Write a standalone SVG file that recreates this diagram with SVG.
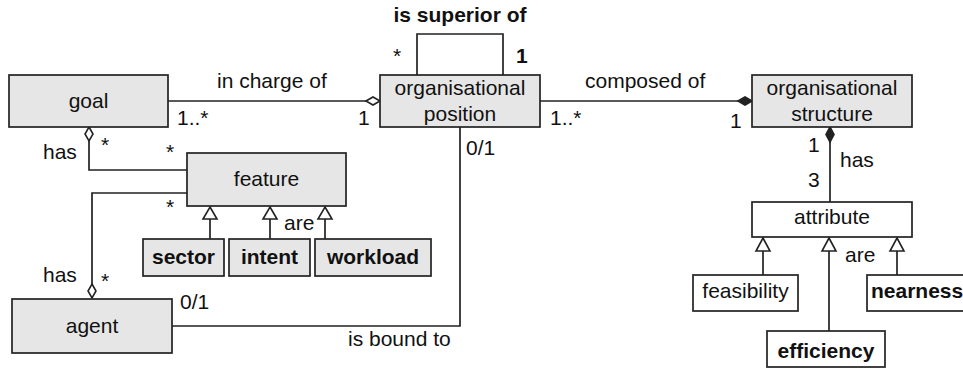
<svg xmlns="http://www.w3.org/2000/svg" width="963" height="372" viewBox="0 0 963 372">
  <style>
    text { font-family: "Liberation Sans", Arial, sans-serif; font-size: 21px; fill: #111; }
    .c { text-anchor: middle; }
    .b { font-weight: bold; }
    .box { fill: #e6e6e6; stroke: #222; stroke-width: 1.7; }
    .wbox { fill: #fff; stroke: #222; stroke-width: 1.7; }
    .ln { fill: none; stroke: #222; stroke-width: 1.7; }
    .hd { fill: #fff; stroke: #222; stroke-width: 1.6; }
    .fd { fill: #222; stroke: #222; stroke-width: 1.6; }
  </style>

  <!-- connectors -->
  <g id="connectors">
    <!-- goal - organisational position -->
    <line class="ln" x1="168" y1="101" x2="366" y2="101"/>
    <polygon class="hd" points="366,101 373,97 380,101 373,105"/>
    <!-- composed of -->
    <line class="ln" x1="540" y1="101" x2="738" y2="101"/>
    <polygon class="fd" points="738,101 745,97 752,101 745,105"/>
    <!-- is superior of (self loop) -->
    <polyline class="ln" points="417,75 417,34 503,34 503,75"/>
    <!-- goal has feature -->
    <polyline class="ln" points="89,141 89,170 187,170"/>
    <polygon class="hd" points="89,127 93,134 89,141 85,134"/>
    <!-- agent has feature -->
    <polyline class="ln" points="187,193 92,193 92,284"/>
    <polygon class="hd" points="92,284 96,291 92,298 88,291"/>
    <!-- agent is bound to position -->
    <polyline class="ln" points="172,326 460,326 460,127"/>
    <!-- structure has attribute -->
    <line class="ln" x1="830" y1="142" x2="830" y2="202"/>
    <polygon class="fd" points="830,127 834,134.5 830,142 826,134.5"/>
    <!-- feature generalisations -->
    <line class="ln" x1="210" y1="219" x2="210" y2="239"/>
    <polygon class="hd" points="210,207 217,219 203,219"/>
    <line class="ln" x1="270" y1="219" x2="270" y2="239"/>
    <polygon class="hd" points="270,207 277,219 263,219"/>
    <line class="ln" x1="325" y1="219" x2="325" y2="239"/>
    <polygon class="hd" points="325,207 332,219 318,219"/>
    <!-- attribute generalisations -->
    <line class="ln" x1="763" y1="251" x2="763" y2="275"/>
    <polygon class="hd" points="763,238 770,251 756,251"/>
    <line class="ln" x1="829" y1="251" x2="829" y2="331"/>
    <polygon class="hd" points="829,238 836,251 822,251"/>
    <line class="ln" x1="897" y1="251" x2="897" y2="275"/>
    <polygon class="hd" points="897,238 904,251 890,251"/>

    <!-- association labels and multiplicities -->
    <text class="c b" x="460" y="22">is superior of</text>
    <text x="393" y="63">*</text>
    <text class="b" x="516" y="63">1</text>
    <text x="217" y="88">in charge of</text>
    <text x="177" y="125">1..*</text>
    <text x="358" y="125">1</text>
    <text x="585" y="88">composed of</text>
    <text x="550" y="125">1..*</text>
    <text x="730" y="128">1</text>
    <text x="466" y="155">0/1</text>
    <text x="43" y="159">has</text>
    <text x="101" y="152">*</text>
    <text x="166" y="159">*</text>
    <text x="166" y="214">*</text>
    <text x="284" y="230">are</text>
    <text x="43" y="282">has</text>
    <text x="101" y="288">*</text>
    <text x="180" y="309">0/1</text>
    <text x="348" y="346">is bound to</text>
    <text x="808" y="152">1</text>
    <text x="840" y="167">has</text>
    <text x="808" y="187">3</text>
    <text x="845" y="262">are</text>
  </g>

  <!-- nodes -->
  <g id="goal">
    <rect class="box" x="9" y="75" width="159" height="52"/>
    <text class="c" x="88.5" y="108">goal</text>
  </g>
  <g id="organisational-position">
    <rect class="box" x="380" y="75" width="160" height="52"/>
    <text class="c" x="460" y="95">organisational</text>
    <text class="c" x="460" y="121">position</text>
  </g>
  <g id="organisational-structure">
    <rect class="box" x="752" y="75" width="160" height="52"/>
    <text class="c" x="832" y="95">organisational</text>
    <text class="c" x="832" y="121">structure</text>
  </g>
  <g id="feature">
    <rect class="box" x="187" y="153" width="159" height="53"/>
    <text class="c" x="266.5" y="186">feature</text>
  </g>
  <g id="sector">
    <rect class="box" x="143" y="239" width="81" height="37"/>
    <text class="c b" x="183.5" y="264">sector</text>
  </g>
  <g id="intent">
    <rect class="box" x="229" y="239" width="81" height="37"/>
    <text class="c b" x="269.5" y="264">intent</text>
  </g>
  <g id="workload">
    <rect class="box" x="315" y="239" width="116" height="37"/>
    <text class="c b" x="373" y="264">workload</text>
  </g>
  <g id="agent">
    <rect class="box" x="12" y="299" width="160" height="54"/>
    <text class="c" x="92" y="333">agent</text>
  </g>
  <g id="attribute">
    <rect class="wbox" x="752" y="202" width="160" height="35"/>
    <text class="c" x="832" y="224">attribute</text>
  </g>
  <g id="feasibility">
    <rect class="wbox" x="693" y="275" width="105" height="36"/>
    <text class="c" x="745.5" y="298">feasibility</text>
  </g>
  <g id="efficiency">
    <rect class="wbox" x="767" y="331" width="118" height="36"/>
    <text class="c b" x="826" y="358">efficiency</text>
  </g>
  <g id="nearness">
    <rect class="wbox" x="867" y="275" width="100" height="36"/>
    <text class="b" x="871" y="298">nearness</text>
  </g>
</svg>
